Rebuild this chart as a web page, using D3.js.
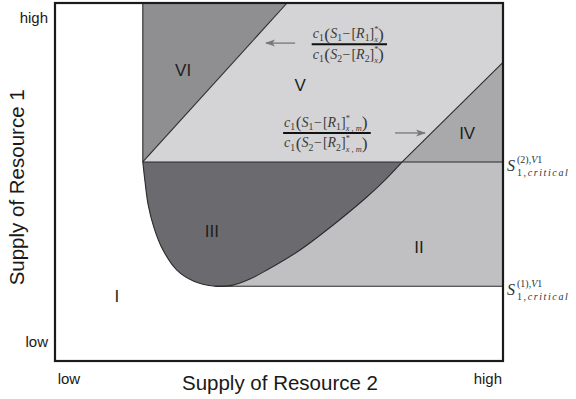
<!DOCTYPE html>
<html><head><meta charset="utf-8">
<script src="https://cdn.jsdelivr.net/npm/d3@7"></script>
<style>body{margin:0;background:#fff} svg{display:block}</style>
</head><body>
<svg id="chart" width="576" height="399"></svg>
<script>
// Normalised supply axes: 0 = low, 1 = high
const supplyDomain = [0, 1];
const resource2TickValues = [0.03, 0.965];
const resource2TickLabels = ["low", "high"];
const resource1TickValues = [0.053, 0.958];
const resource1TickLabels = ["low", "high"];

// Critical supply levels of resource 1 and the corner of the ZNGI
const s1CriticalLow = 0.209;   // S_{1,critical}^{(1),V1}
const s1CriticalHigh = 0.556;  // S_{1,critical}^{(2),V1}
const s2Corner = 0.196;

// Consumption-ratio boundaries, from the corner to the frame
const lowerRatioLine = [[0.196, 0.556], [0.518, 1]];
const upperRatioLine = [[0.775, 0.556], [1, 0.834]];

// Boundary of region III (supply of resource 2, supply of resource 1)
const curveS2 = [0.196, 0.201, 0.208, 0.221, 0.241, 0.272, 0.310, 0.357, 0.397, 0.435, 0.473, 0.547, 0.621, 0.696, 0.741, 0.775];
const curveS1 = [0.556, 0.500, 0.436, 0.372, 0.310, 0.254, 0.223, 0.209, 0.212, 0.229, 0.254, 0.310, 0.380, 0.458, 0.511, 0.556];
const curveMinIndex = 7;

// Region names with label anchors
const regionNames = ["I", "II", "III", "IV", "V", "VI"];
const regionLabelS2 = [0.138, 0.8125, 0.350, 0.920, 0.547, 0.286];
const regionLabelS1 = [0.182, 0.318, 0.363, 0.637, 0.771, 0.813];

const fills = {II: "#c0c0c2", III: "#6b6b6f", IV: "#a9a9ab", V: "#d4d4d6", VI: "#8f8f91"};

const SANS = "'Liberation Sans', Arial, sans-serif";
const SERIF = "'Liberation Serif', 'DejaVu Serif', serif";

const svg = d3.select("#chart");
const x = d3.scaleLinear(supplyDomain, [55, 503]);
const y = d3.scaleLinear(supplyDomain, [361, 3]);
const line = d3.line().x(d => x(d[0])).y(d => y(d[1]));

const curvePts = curveS2.map((v, i) => [v, curveS1[i]]);
const curveLine = d3.line().x(d => x(d[0])).y(d => y(d[1])).curve(d3.curveCatmullRom.alpha(0.5));

// Region II: band between the two critical levels, right of the curve
svg.append("path")
  .attr("d", curveLine(curvePts.slice(curveMinIndex)) +
        `L${x(1)},${y(s1CriticalHigh)}L${x(1)},${y(s1CriticalLow)}Z`)
  .attr("fill", fills.II);
// Region III: inside the curve
svg.append("path").attr("d", curveLine(curvePts) + "Z").attr("fill", fills.III);
// Region VI
svg.append("path").attr("d", line([[s2Corner, s1CriticalHigh], [s2Corner, 1], lowerRatioLine[1]]) + "Z").attr("fill", fills.VI);
// Region V
svg.append("path").attr("d", line([lowerRatioLine[0], lowerRatioLine[1], [1, 1], upperRatioLine[1], upperRatioLine[0]]) + "Z").attr("fill", fills.V);
// Region IV
svg.append("path").attr("d", line([upperRatioLine[0], upperRatioLine[1], [1, s1CriticalHigh]]) + "Z").attr("fill", fills.IV);

// Boundary lines
const bnd = svg.append("g").attr("fill", "none").attr("stroke", "#2a2a2a").attr("stroke-width", 1.1);
bnd.append("path").attr("d", line([[s2Corner, s1CriticalHigh], [s2Corner, 1]]));
bnd.append("path").attr("d", line([[s2Corner, s1CriticalHigh], [1, s1CriticalHigh]]));
bnd.append("path").attr("d", line([[curveS2[curveMinIndex], s1CriticalLow], [1, s1CriticalLow]]));
bnd.append("path").attr("d", line(lowerRatioLine));
bnd.append("path").attr("d", line(upperRatioLine));
bnd.append("path").attr("d", curveLine(curvePts));

// Frame
svg.append("rect").attr("x", x(0)).attr("y", y(1)).attr("width", x(1) - x(0)).attr("height", y(0) - y(1))
  .attr("fill", "none").attr("stroke", "#1b1b1b").attr("stroke-width", 2.2);

// Axes (labels only)
const axB = svg.append("g").attr("transform", `translate(0,${y(0)})`)
  .call(d3.axisBottom(x).tickValues(resource2TickValues).tickFormat((d, i) => resource2TickLabels[i]).tickSize(0).tickPadding(12));
const axL = svg.append("g").attr("transform", `translate(${x(0)},0)`)
  .call(d3.axisLeft(y).tickValues(resource1TickValues).tickFormat((d, i) => resource1TickLabels[i]).tickSize(0).tickPadding(7));
[axB, axL].forEach(a => {
  a.select(".domain").remove();
  a.selectAll("text").attr("font-family", SANS).attr("font-size", 15).attr("fill", "#1a1a1a");
});

svg.append("text").attr("x", 280).attr("y", 390).attr("text-anchor", "middle")
  .attr("font-family", SANS).attr("font-size", 20.5).attr("fill", "#1a1a1a")
  .text("Supply of Resource 2");
svg.append("text").attr("transform", `translate(24,${y(0.485)}) rotate(-90)`).attr("text-anchor", "middle")
  .attr("font-family", SANS).attr("font-size", 20.5).attr("fill", "#1a1a1a")
  .text("Supply of Resource 1");

// Region labels
svg.append("g").selectAll("text").data(regionNames).join("text")
  .attr("x", (d, i) => x(regionLabelS2[i])).attr("y", (d, i) => y(regionLabelS1[i]))
  .attr("dy", "0.36em").attr("text-anchor", "middle")
  .attr("font-family", SANS).attr("font-size", 17).attr("fill", "#1e1e1e")
  .text(d => d);

// Math typesetting: one <text> per expression, tokens as tspans
function typeset(text, tokens, size) {
  const start = text.node().getComputedTextLength();
  tokens.forEach(tk => {
    if (tk.stack) {
      const a = text.append("tspan").attr("y", -size * 0.45).attr("font-size", size * 0.6).text(tk.stack[0]);
      const wa = a.node().getComputedTextLength();
      const b = text.append("tspan").attr("dx", -wa).attr("y", size * 0.3).attr("font-size", size * 0.6)
        .attr("font-style", "italic").text(tk.stack[1]);
      const wb = b.node().getComputedTextLength();
      text.append("tspan").attr("dx", Math.max(0, wa - wb) + 2).attr("y", 0).text("");
      return;
    }
    let fs = size, ty = 0;
    if (tk.sub) { fs = size * 0.7; ty = size * 0.22; }
    if (tk.big) { fs = size * 1.25; ty = size * 0.1; }
    text.append("tspan").attr("dx", tk.pre || 0).attr("y", ty).attr("font-size", fs)
      .attr("font-style", tk.it ? "italic" : "normal").text(tk.t);
  });
  return text.node().getComputedTextLength() - start;
}

function ratioSide(i, sub) {
  return [
    {t: "c", it: 1}, {t: "1", sub: 1}, {t: "(", big: 1, pre: 0.5},
    {t: "S", it: 1}, {t: String(i), sub: 1}, {t: "−", pre: 0.5}, {t: "[", pre: 1},
    {t: "R", it: 1}, {t: String(i), sub: 1}, {t: "]"}, {stack: ["*", sub]}, {t: ")", big: 1}
  ];
}

function fraction(cxData, barData, sub) {
  const size = 14;
  const cxp = x(cxData), by = y(barData);
  const g = svg.append("g").attr("font-family", SERIF).attr("fill", "#3a3a3a");
  const num = g.append("text").attr("x", 0), den = g.append("text").attr("x", 0);
  const wn = typeset(num, ratioSide(1, sub), size);
  const wd = typeset(den, ratioSide(2, sub), size);
  const w = Math.max(wn, wd);
  num.attr("transform", `translate(${cxp - wn / 2},${by - 6})`);
  den.attr("transform", `translate(${cxp - wd / 2},${by + 14.5})`);
  g.append("line").attr("x1", cxp - w / 2 - 1).attr("x2", cxp + w / 2 + 1).attr("y1", by).attr("y2", by)
    .attr("stroke", "#111").attr("stroke-width", 2);
}

fraction(0.657, 0.885, "x");
fraction(0.607, 0.637, "x , m");

// Arrows
svg.append("defs").append("marker").attr("id", "head").attr("viewBox", "0 -4 10 8")
  .attr("refX", 9).attr("refY", 0).attr("markerWidth", 10).attr("markerHeight", 8).attr("markerUnits", "userSpaceOnUse")
  .attr("orient", "auto").append("path").attr("d", "M0,-3.5L10,0L0,3.5L2.5,0Z").attr("fill", "#777");
const arrowFrom = [[0.536, 0.888], [0.759, 0.637]];
const arrowTo = [[0.471, 0.888], [0.826, 0.637]];
arrowFrom.forEach((a, i) => {
  svg.append("path").attr("d", line([a, arrowTo[i]])).attr("stroke", "#777").attr("stroke-width", 1.3)
    .attr("fill", "none").attr("marker-end", "url(#head)");
});

// Critical-level labels on the right
const critLevels = [s1CriticalHigh, s1CriticalLow];
const critSup = ["(2),", "(1),"];
critLevels.forEach((lv, i) => {
  const t = svg.append("text").attr("font-family", SERIF).attr("fill", "#333")
    .attr("transform", `translate(507,${y(lv) + 9})`);
  t.append("tspan").attr("x", 0).attr("y", 0).attr("font-size", 16).attr("font-style", "italic").text("S");
  t.append("tspan").attr("x", 10).attr("y", -8).attr("font-size", 10).text(critSup[i]);
  t.append("tspan").attr("font-size", 10).attr("font-style", "italic").text("V");
  t.append("tspan").attr("font-size", 10).text("1");
  t.append("tspan").attr("x", 10).attr("y", 5).attr("font-size", 10).attr("letter-spacing", 1.6).text("1,");
  t.append("tspan").attr("font-size", 10).attr("font-style", "italic").attr("letter-spacing", 1.6).text("critical");
});
</script>
</body></html>
